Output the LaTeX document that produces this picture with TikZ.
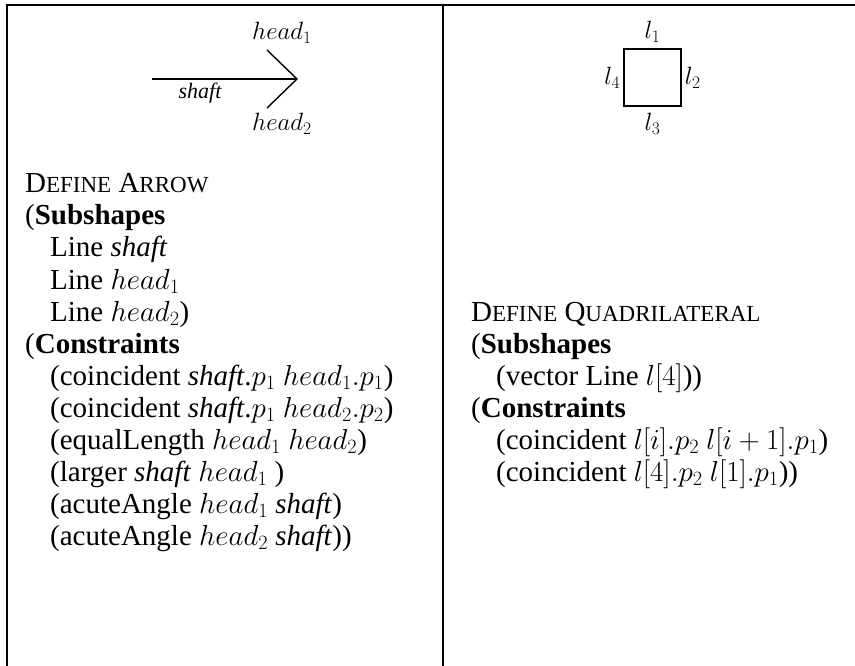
\RequirePackage{fix-cm}
\documentclass[tikz,border=0pt]{standalone}
\usepackage{fontspec}
\setmainfont{Liberation Serif}
\usetikzlibrary{positioning}
\newcommand{\bodysize}{\fontsize{29}{32}\selectfont}
\newcommand{\scsize}{\fontsize{23}{28}\selectfont}
\newcommand{\FakeSC}[2]{#1{\scsize #2}}
\begin{document}
\begin{tikzpicture}[x=1pt,y=-1pt,
  rule/.style={line width=1.3pt},
  stroke/.style={line width=1.4pt},
  txt/.style={anchor=base west,inner sep=0pt,font=\bodysize},
  lbl/.style={inner sep=0pt,font=\fontsize{25}{30}\selectfont}]
\useasboundingbox (0,0) rectangle (855,666);
% table rules
\coordinate (tl) at (7,5);
\coordinate (tr) at (855,5);
\coordinate (bl) at (7,666);
\coordinate (tm) at (443,5);
\coordinate (bm) at (443,666);
\draw[rule] (tr) -- (tl) -- (bl);
\draw[rule] (tm) -- (bm);
% arrow figure
\coordinate (s0) at (152,79);
\coordinate (tip) at (297,79);
\coordinate (h1) at (267,50);
\coordinate (h2) at (267,108);
\draw[stroke] (s0) -- (tip);
\draw[stroke] (h1) -- (tip) -- (h2);
\node[lbl] (lh1) at (282,33) {$head_1$};
\node[lbl] (lh2) at (282,124) {$head_2$};
\node[inner sep=0pt,font=\fontsize{22}{26}\selectfont\itshape] (lsh) at (200,93) {shaft};
% square figure
\node[draw,stroke,minimum width=57pt,minimum height=57pt,inner sep=0pt] (sq) at (652.5,77.5) {};
\node[lbl,above=6pt of sq.north] (l1) {$l_1$};
\node[lbl,right=3pt of sq.east] (l2) {$l_2$};
\node[lbl,below=6pt of sq.south] (l3) {$l_3$};
\node[lbl,left=3pt of sq.west] (l4) {$l_4$};
% left column text
\node[txt] (a0) at (25,193) {\FakeSC{D}{EFINE} \FakeSC{A}{RROW}};
\node[txt] (a1) at (25,225) {(\textbf{Subshapes}};
\node[txt] (a2) at (50,257) {Line \textit{shaft}};
\node[txt] (a3) at (50,289) {Line $head_1$};
\node[txt] (a4) at (50,321) {Line $head_2$)};
\node[txt] (a5) at (25,353) {(\textbf{Constraints}};
\node[txt] (a6) at (50,385) {(coincident \textit{shaft}.$p_1$ $head_1.p_1$)};
\node[txt] (a7) at (50,417) {(coincident \textit{shaft}.$p_1$ $head_2.p_2$)};
\node[txt] (a8) at (50,449) {(equalLength $head_1$ $head_2$)};
\node[txt] (a9) at (50,481) {(larger \textit{shaft} $head_1$ )};
\node[txt] (a10) at (50,513) {(acuteAngle $head_1$ \textit{shaft})};
\node[txt] (a11) at (50,545) {(acuteAngle $head_2$ \textit{shaft}))};
% right column text
\node[txt] (b0) at (471,321) {\FakeSC{D}{EFINE} \FakeSC{Q}{UADRILATERAL}};
\node[txt] (b1) at (471,353) {(\textbf{Subshapes}};
\node[txt] (b2) at (496,385) {(vector Line $l[4]$))};
\node[txt] (b3) at (471,417) {(\textbf{Constraints}};
\node[txt] (b4) at (496,449) {(coincident $l[i].p_2$ $l[i+1].p_1$)};
\node[txt] (b5) at (496,481) {(coincident $l[4].p_2$ $l[1].p_1$))};
\end{tikzpicture}
\end{document}
